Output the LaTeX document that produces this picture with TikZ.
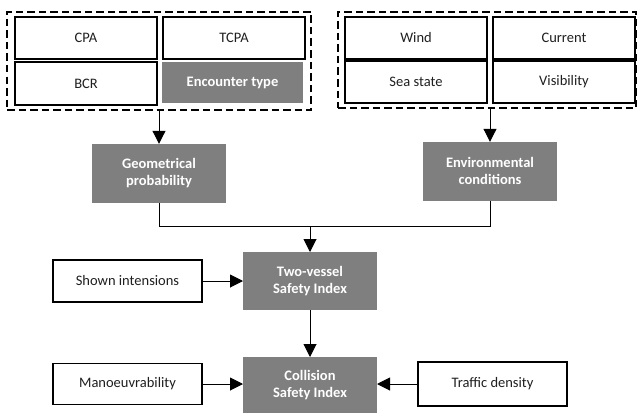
\documentclass[tikz,border=0pt]{standalone}
\usepackage{fontspec}
\setmainfont{Carlito}
\usetikzlibrary{arrows.meta}
\definecolor{boxgray}{HTML}{7F7F7F}
\definecolor{txtdark}{HTML}{1F1F1F}
\newcommand{\cfont}{\fontsize{14.5}{17}\selectfont}
\tikzset{
  wbox/.style={draw=black, line width=1.5pt, fill=white, inner sep=0pt, outer sep=0pt, font=\cfont, text=txtdark},
  gbox/.style={fill=boxgray, inner sep=0pt, outer sep=0pt, font=\cfont\bfseries, text=white, align=center},
  grp/.style={draw=black, line width=2.6pt, dash pattern=on 7.5pt off 4pt, inner sep=0pt, outer sep=0pt},
  arr/.style={-{Triangle[length=13pt,width=13pt]}, line width=1pt},
  conn/.style={line width=1pt}
}
\begin{document}
\begin{tikzpicture}[x=1pt,y=-1pt]
\useasboundingbox (0,0) rectangle (639,412);
% left group
\node[grp, minimum width=304pt, minimum height=98pt] (G1) at (159,61) {};
\node[wbox, minimum width=142pt, minimum height=42pt] (cpa) at (86,38) {CPA};
\node[wbox, minimum width=142pt, minimum height=42pt] (tcpa) at (234,38) {TCPA};
\node[wbox, minimum width=142pt, minimum height=43pt] (bcr) at (86,83.5) {BCR};
\node[gbox, minimum width=141pt, minimum height=41pt] (enc) at (232.5,82.5) {Encounter type};
% right group
\node[grp, minimum width=298pt, minimum height=96pt] (G2) at (487,60) {};
\node[wbox, minimum width=142pt, minimum height=42pt] (wind) at (416,38) {Wind};
\node[wbox, minimum width=142pt, minimum height=42pt] (cur) at (564,38) {Current};
\node[wbox, minimum width=142pt, minimum height=42pt] (sea) at (416,82) {Sea state};
\node[wbox, minimum width=142pt, minimum height=42pt] (vis) at (564,82) {Visibility};
% middle
\node[gbox, minimum width=134pt, minimum height=59pt] (geo) at (159,173.3) {Geometrical\\probability};
\node[gbox, minimum width=134pt, minimum height=59pt] (env) at (490,171.3) {Environmental\\conditions};
\node[gbox, minimum width=134pt, minimum height=58pt] (two) at (310,281) {Two-vessel\\Safety Index};
\node[wbox, minimum width=149pt, minimum height=42pt] (shown) at (127.5,281) {Shown intensions};
\node[gbox, minimum width=134pt, minimum height=56pt] (coll) at (310,385) {Collision\\Safety Index};
\node[wbox, minimum width=149pt, minimum height=41pt] (man) at (127.5,384) {Manoeuvrability};
\node[wbox, minimum width=149pt, minimum height=44pt] (traf) at (492.5,384) {Traffic density};
\coordinate (jn) at (310,226.7);
% connectors
\draw[arr] (G1.south) -- (G1.south |- geo.north);
\draw[arr] (env.north |- G2.south) -- (env.north);
\draw[conn] (geo.south) |- (jn) -| (env.south);
\draw[arr] (jn) -- (two.north);
\draw[arr] (shown.east) -- (two.west |- shown.east);
\draw[arr] (two.south) -- (coll.north);
\draw[arr] (man.east) -- (coll.west |- man.east);
\draw[arr] (traf.west) -- (coll.east |- traf.west);
\end{tikzpicture}
\end{document}
